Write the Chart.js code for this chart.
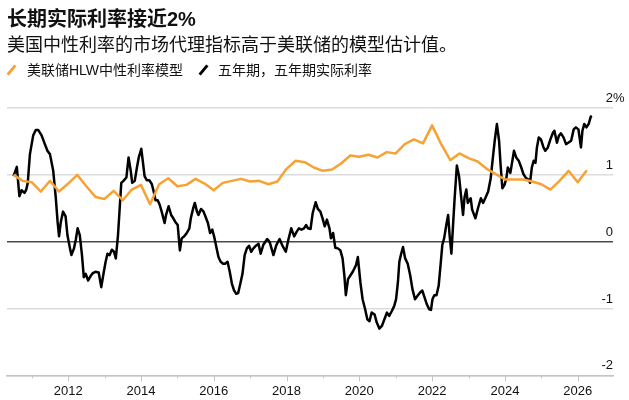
<!DOCTYPE html>
<html>
<head>
<meta charset="utf-8">
<script src="https://cdn.jsdelivr.net/npm/chart.js@4.4.1/dist/chart.umd.min.js"></script>
<style>
  body { margin: 0; background: #fff; font-family: "Liberation Sans", "Noto Sans CJK SC", sans-serif; color: #111; }
  #wrap { position: relative; width: 629px; height: 400px; }
  #chart { position: absolute; left: 0; top: 0; }
  .title { position: absolute; left: 7px; top: 7px; font-size: 20px; line-height: 24px; font-weight: bold; white-space: nowrap; }
  .sub { position: absolute; left: 7px; top: 34px; font-size: 18px; line-height: 22px; white-space: nowrap; }
  .leg { position: absolute; top: 61px; font-size: 14px; line-height: 18px; white-space: nowrap; }
  .icon { position: absolute; top: 64px; width: 3px; height: 12px; transform: rotate(40deg); }
</style>
</head>
<body>
<div id="wrap">
  <canvas id="chart" width="629" height="400"></canvas>
  <div class="title">长期实际利率接近2%</div>
  <div class="sub">美国中性利率的市场代理指标高于美联储的模型估计值。</div>
  <div class="icon" style="left:10px;background:#f7a234"></div>
  <div class="leg" style="left:27px">美联储HLW中性利率模型</div>
  <div class="icon" style="left:202px;background:#000"></div>
  <div class="leg" style="left:218px">五年期，五年期实际利率</div>
</div>
<script>
// ==========================
// DATA
// ==========================
const hlwStart = 2010.5; // quarterly series
const hlwRates = [
  1.00, 0.91, 0.89, 0.75, 0.91, 0.75, 0.87, 1.00, 0.83, 0.67, 0.64, 0.76, 0.62, 0.78, 0.85, 0.56,
  0.86, 0.95, 0.83, 0.85, 0.94, 0.87, 0.77, 0.88, 0.91, 0.94, 0.90, 0.91, 0.86, 0.90, 1.09, 1.21,
  1.19, 1.11, 1.06, 1.08, 1.17, 1.29, 1.27, 1.30, 1.26, 1.34, 1.32, 1.46, 1.53, 1.47, 1.74, 1.46,
  1.22, 1.32, 1.25, 1.20, 1.09, 1.01, 0.93, 0.93, 0.93, 0.90, 0.86, 0.78, 0.91, 1.06, 0.89, 1.07
];

const realYears = [
  2010.50, 2010.59, 2010.66, 2010.72, 2010.80, 2010.85, 2010.89, 2010.95, 2011.04, 2011.11, 2011.18, 2011.27,
  2011.36, 2011.43, 2011.50, 2011.59, 2011.66, 2011.71, 2011.75, 2011.80, 2011.86, 2011.93, 2011.98, 2012.05,
  2012.09, 2012.16, 2012.21, 2012.26, 2012.32, 2012.38, 2012.43, 2012.48, 2012.55, 2012.62, 2012.68, 2012.75,
  2012.84, 2012.91, 2012.98, 2013.03, 2013.08, 2013.14, 2013.20, 2013.26, 2013.31, 2013.37, 2013.46, 2013.52,
  2013.60, 2013.66, 2013.72, 2013.76, 2013.83, 2013.89, 2013.94, 2014.01, 2014.05, 2014.10, 2014.16, 2014.23,
  2014.30, 2014.36, 2014.40, 2014.46, 2014.51, 2014.57, 2014.65, 2014.69, 2014.76, 2014.83, 2014.89, 2014.94,
  2015.01, 2015.07, 2015.12, 2015.19, 2015.26, 2015.33, 2015.37, 2015.44, 2015.48, 2015.54, 2015.58, 2015.65,
  2015.72, 2015.77, 2015.84, 2015.90, 2015.96, 2016.01, 2016.08, 2016.13, 2016.19, 2016.26, 2016.31, 2016.38,
  2016.44, 2016.50, 2016.56, 2016.62, 2016.67, 2016.73, 2016.79, 2016.85, 2016.91, 2016.97, 2017.03, 2017.09,
  2017.16, 2017.23, 2017.29, 2017.36, 2017.47, 2017.54, 2017.64, 2017.72, 2017.81, 2017.88, 2017.98, 2018.05,
  2018.13, 2018.21, 2018.28, 2018.34, 2018.41, 2018.48, 2018.54, 2018.59, 2018.66, 2018.72, 2018.80, 2018.86,
  2018.93, 2018.99, 2019.05, 2019.11, 2019.18, 2019.22, 2019.28, 2019.34, 2019.41, 2019.48, 2019.54, 2019.59,
  2019.63, 2019.69, 2019.75, 2019.82, 2019.91, 2019.96, 2020.03, 2020.09, 2020.16, 2020.22, 2020.28, 2020.34,
  2020.42, 2020.48, 2020.55, 2020.62, 2020.69, 2020.76, 2020.82, 2020.89, 2020.96, 2021.01, 2021.06, 2021.10,
  2021.15, 2021.20, 2021.26, 2021.33, 2021.40, 2021.46, 2021.53, 2021.60, 2021.67, 2021.73, 2021.79, 2021.85,
  2021.92, 2021.97, 2022.01, 2022.06, 2022.12, 2022.18, 2022.24, 2022.28, 2022.33, 2022.39, 2022.44, 2022.48,
  2022.53, 2022.57, 2022.62, 2022.68, 2022.74, 2022.80, 2022.85, 2022.89, 2022.94, 2022.98, 2023.06, 2023.10,
  2023.19, 2023.26, 2023.34, 2023.40, 2023.46, 2023.54, 2023.61, 2023.66, 2023.72, 2023.78, 2023.84, 2023.88,
  2023.93, 2023.99, 2024.04, 2024.08, 2024.15, 2024.19, 2024.25, 2024.31, 2024.38, 2024.45, 2024.51, 2024.58,
  2024.65, 2024.69, 2024.74, 2024.79, 2024.84, 2024.88, 2024.93, 2024.99, 2025.06, 2025.11, 2025.18, 2025.25,
  2025.32, 2025.36, 2025.43, 2025.48, 2025.54, 2025.61, 2025.68, 2025.74, 2025.82, 2025.89, 2025.95, 2026.02,
  2026.09, 2026.13, 2026.18, 2026.24, 2026.30, 2026.36, 2026.39
];
const realRates = [
  0.98, 1.12, 0.68, 0.77, 0.73, 0.78, 0.88, 1.31, 1.59, 1.67, 1.67, 1.59,
  1.46, 1.36, 1.31, 1.06, 0.66, 0.30, 0.08, 0.30, 0.45, 0.38, 0.10, -0.10,
  -0.20, -0.10, 0.03, 0.20, 0.10, -0.20, -0.53, -0.48, -0.58, -0.51, -0.47, -0.45,
  -0.46, -0.68, -0.45, -0.30, -0.18, -0.20, -0.12, -0.15, -0.25, 0.10, 0.88, 0.91,
  0.96, 1.26, 1.06, 0.88, 0.91, 1.11, 1.26, 1.39, 1.21, 0.98, 0.92, 0.92,
  0.86, 0.73, 0.62, 0.62, 0.56, 0.45, 0.28, 0.40, 0.53, 0.40, 0.35, 0.30,
  0.25, -0.13, 0.05, 0.08, 0.13, 0.20, 0.35, 0.51, 0.58, 0.45, 0.40, 0.49,
  0.45, 0.38, 0.28, 0.13, 0.18, 0.08, -0.10, -0.23, -0.30, -0.33, -0.33, -0.30,
  -0.45, -0.63, -0.73, -0.78, -0.77, -0.63, -0.48, -0.20, -0.10, -0.06, -0.15, -0.10,
  -0.06, -0.03, -0.18, -0.05, 0.04, -0.01, -0.20, -0.05, 0.04, -0.05, -0.15, 0.03,
  0.20, 0.08, 0.15, 0.20, 0.18, 0.20, 0.25, 0.20, 0.19, 0.43, 0.59, 0.49,
  0.45, 0.35, 0.23, 0.33, 0.20, 0.05, 0.13, -0.09, -0.10, -0.13, -0.25, -0.51,
  -0.80, -0.56, -0.51, -0.45, -0.35, -0.23, -0.61, -0.86, -1.01, -1.16, -1.19, -1.06,
  -1.09, -1.21, -1.30, -1.26, -1.16, -1.06, -1.11, -1.04, -0.96, -0.86, -0.61, -0.30,
  -0.18, -0.08, -0.25, -0.33, -0.51, -0.71, -0.86, -0.81, -0.76, -0.73, -0.83, -0.93,
  -1.01, -1.02, -0.86, -0.80, -0.80, -0.66, -0.30, -0.05, 0.05, 0.25, 0.40, 0.10,
  -0.18, 0.20, 0.66, 1.14, 0.98, 0.66, 0.40, 0.66, 0.78, 0.58, 0.65, 0.48,
  0.35, 0.50, 0.65, 0.58, 0.65, 0.75, 0.95, 1.21, 1.51, 1.76, 1.51, 1.16,
  0.80, 0.85, 0.95, 1.11, 1.03, 1.16, 1.36, 1.26, 1.21, 1.11, 1.01, 0.95,
  0.93, 0.88, 1.11, 1.21, 1.18, 1.41, 1.56, 1.53, 1.41, 1.36, 1.41, 1.53,
  1.63, 1.66, 1.48, 1.58, 1.62, 1.56, 1.46, 1.48, 1.51, 1.68, 1.71, 1.68,
  1.41, 1.66, 1.76, 1.71, 1.76, 1.87, 1.88
];

const yTicks = [-2, -1, 0, 1, 2];
const xMin = 2010.32;
const xMax = 2026.97;

// ==========================
// HELPERS / PLUGINS
// ==========================
const FONT = '"Liberation Sans", "Noto Sans CJK SC", sans-serif';

const axisDecor = {
  id: 'axisDecor',
  afterDraw(chart) {
    const { ctx, chartArea, scales } = chart;
    const x = scales.x, y = scales.y;
    ctx.save();

    // year tick marks under the baseline
    ctx.strokeStyle = '#c4c4c4';
    ctx.lineWidth = 1;
    for (let yr = Math.ceil(xMin); yr <= Math.floor(xMax); yr++) {
      const px = Math.round(x.getPixelForValue(yr)) + 0.5;
      const len = yr % 2 === 0 ? 6 : 3;
      ctx.beginPath();
      ctx.moveTo(px, chartArea.bottom);
      ctx.lineTo(px, chartArea.bottom + len);
      ctx.stroke();
    }

    // right-side value labels sitting above their grid lines
    ctx.fillStyle = '#111';
    ctx.font = '13px ' + FONT;
    ctx.textBaseline = 'alphabetic';
    yTicks.forEach(v => {
      const py = y.getPixelForValue(v) - 6;
      ctx.textAlign = 'right';
      ctx.fillText(String(v), chartArea.right, py);
      if (v === yTicks[yTicks.length - 1]) {
        ctx.textAlign = 'left';
        ctx.fillText('%', chartArea.right, py);
      }
    });
    ctx.restore();
  }
};

// ==========================
// CHART
// ==========================
new Chart(document.getElementById('chart'), {
  type: 'line',
  data: {
    datasets: [
      {
        label: '美联储HLW中性利率模型',
        data: hlwRates.map((v, i) => ({ x: hlwStart + i * 0.25, y: v })),
        borderColor: '#f7a234',
        borderWidth: 2.5,
        pointRadius: 0,
        tension: 0,
        borderJoinStyle: 'round'
      },
      {
        label: '五年期，五年期实际利率',
        data: realYears.map((yr, i) => ({ x: yr, y: realRates[i] })),
        borderColor: '#000',
        borderWidth: 2.5,
        pointRadius: 0,
        tension: 0,
        borderJoinStyle: 'round'
      }
    ]
  },
  options: {
    responsive: false,
    animation: false,
    layout: { padding: { left: 7, right: 16, top: 108, bottom: -1 } },
    plugins: {
      legend: { display: false },
      tooltip: { enabled: false }
    },
    scales: {
      x: {
        type: 'linear',
        min: xMin,
        max: xMax,
        afterBuildTicks: s => {
          const t = [];
          for (let yr = Math.ceil(xMin); yr <= Math.floor(xMax); yr++) t.push({ value: yr });
          s.ticks = t;
        },
        grid: { display: false, drawTicks: true, tickLength: 6 },
        border: { display: true, color: '#c4c4c4', width: 1.5 },
        ticks: {
          autoSkip: false,
          maxRotation: 0,
          padding: 2,
          color: '#111',
          font: { size: 13, family: FONT },
          callback: v => (v % 2 === 0 ? String(v) : '')
        }
      },
      y: {
        position: 'right',
        min: -2,
        max: 2,
        afterBuildTicks: s => { s.ticks = yTicks.map(v => ({ value: v })); },
        grid: {
          drawTicks: false,
          lineWidth: 1.5,
          color: c => (c.tick && c.tick.value === 0 ? '#4a4a4a' : '#dcdcdc')
        },
        border: { display: false },
        ticks: { display: false }
      }
    }
  },
  plugins: [axisDecor]
});
</script>
</body>
</html>
